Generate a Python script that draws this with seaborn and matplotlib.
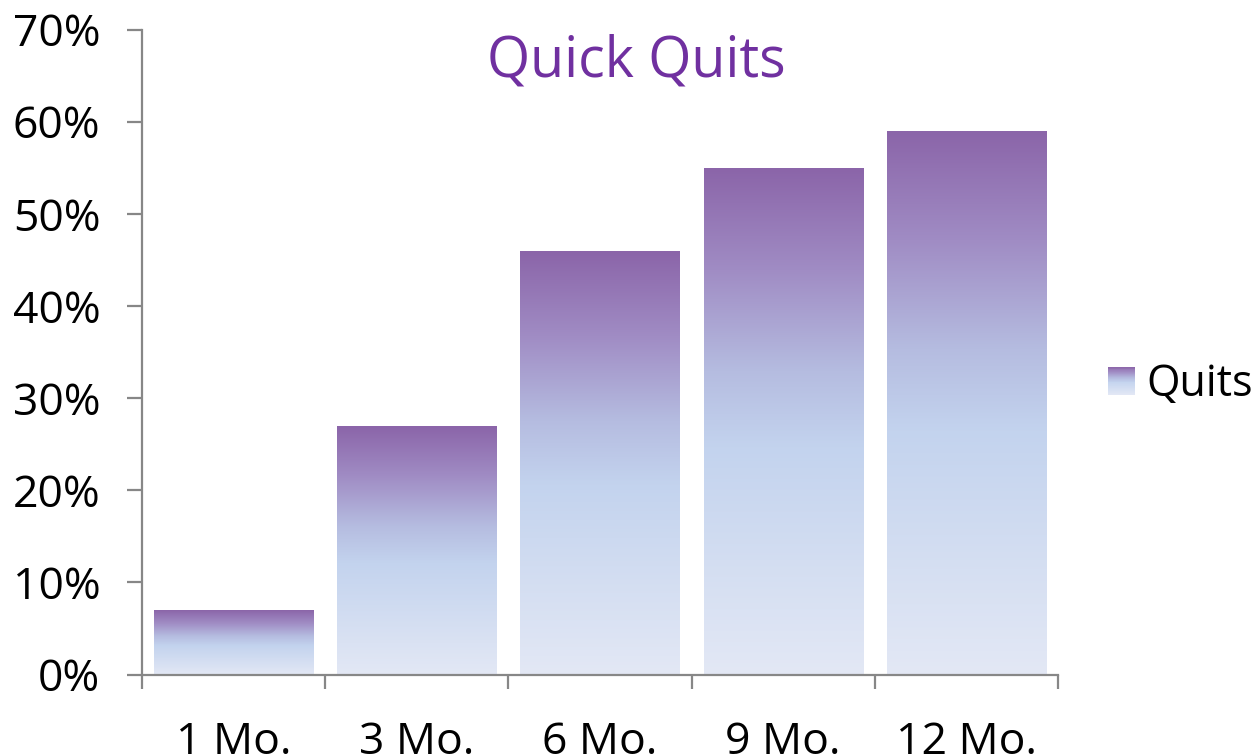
import numpy as np
import pandas as pd
import matplotlib
matplotlib.use("Agg")
import matplotlib.pyplot as plt
import seaborn as sns
from matplotlib.colors import LinearSegmentedColormap
from matplotlib.legend_handler import HandlerBase
from matplotlib.patches import Rectangle
from matplotlib.ticker import FixedLocator, PercentFormatter

categories = ["1 Mo.", "3 Mo.", "6 Mo.", "9 Mo.", "12 Mo."]
quits = [7, 27, 46, 55, 59]
series_name = "Quits"
title = "Quick Quits"

sns.set_theme(style="white")
plt.rcParams['font.family'] = ['Open Sans', 'DejaVu Sans']
plt.rcParams['text.color'] = 'black'

cmap = LinearSegmentedColormap.from_list(
    "quits",
    [(0.0, "#E3E8F5"), (0.45, "#C3D3EE"), (0.6, "#B5BCE0"),
     (0.8, "#A08CC4"), (1.0, "#8B65A9")])

df = pd.DataFrame({"period": categories, "value": quits})

fig = plt.figure(figsize=(12.56, 7.56), dpi=100)
ax = fig.add_axes([142/1256, 1-674.5/756, (1058-142)/1256, (674.5-29.5)/756])

sns.barplot(data=df, x="period", y="value", ax=ax, width=0.868,
            color="#C3D3EE", edgecolor="none", linewidth=0, errorbar=None)

grad = np.linspace(0, 1, 256).reshape(-1, 1)
for p in list(ax.patches):
    x0, y0 = p.get_x(), p.get_y()
    w, h = p.get_width(), p.get_height()
    ax.imshow(grad, extent=(x0, x0 + w, y0, y0 + h), origin="lower",
              cmap=cmap, aspect="auto", zorder=2, interpolation="bilinear")
    p.set_visible(False)

ax.set_xlim(-0.5, len(categories) - 0.5)
ax.set_ylim(0, 70)
ax.set_xlabel("")
ax.set_ylabel("")

ax.yaxis.set_major_locator(FixedLocator(np.arange(0, 71, 10)))
ax.yaxis.set_major_formatter(PercentFormatter(decimals=0))
ax.xaxis.set_minor_locator(FixedLocator(np.arange(-0.5, len(categories), 1.0)))

spine_c = "#878787"
for s in ["top", "right"]:
    ax.spines[s].set_visible(False)
for s in ["left", "bottom"]:
    ax.spines[s].set_color(spine_c)
    ax.spines[s].set_linewidth(1.6)

ax.tick_params(axis="y", which="major", direction="out", length=11, width=1.6,
               color=spine_c, labelsize=32, pad=19, labelcolor="black", left=True)
ax.tick_params(axis="x", which="major", length=0, labelsize=32, pad=33,
               labelcolor="black")
ax.tick_params(axis="x", which="minor", direction="out", length=10, width=1.6,
               color=spine_c, bottom=True)

fig.text(636/1256, 1-77/756, title, ha="center", va="baseline",
         fontsize=40, color="#7030A0")


class GradHandler(HandlerBase):
    def create_artists(self, legend, orig_handle, xdescent, ydescent,
                       width, height, fontsize, trans):
        n = 30
        arts = []
        for i in range(n):
            r = Rectangle((-xdescent, -ydescent + i * height / n), width,
                          height / n * 1.05, facecolor=cmap((i + 0.5) / n),
                          edgecolor="none", lw=0, transform=trans)
            arts.append(r)
        return arts


handle = Rectangle((0, 0), 1, 1)
fig.legend([handle], [series_name], handler_map={Rectangle: GradHandler()},
           loc="center left", bbox_to_anchor=(1108/1256, 1-384.5/756),
           frameon=False, fontsize=31, handlelength=0.62, handleheight=0.62,
           handletextpad=0.28, borderpad=0, borderaxespad=0, labelcolor="black")

fig.savefig("out.png", dpi=100)
